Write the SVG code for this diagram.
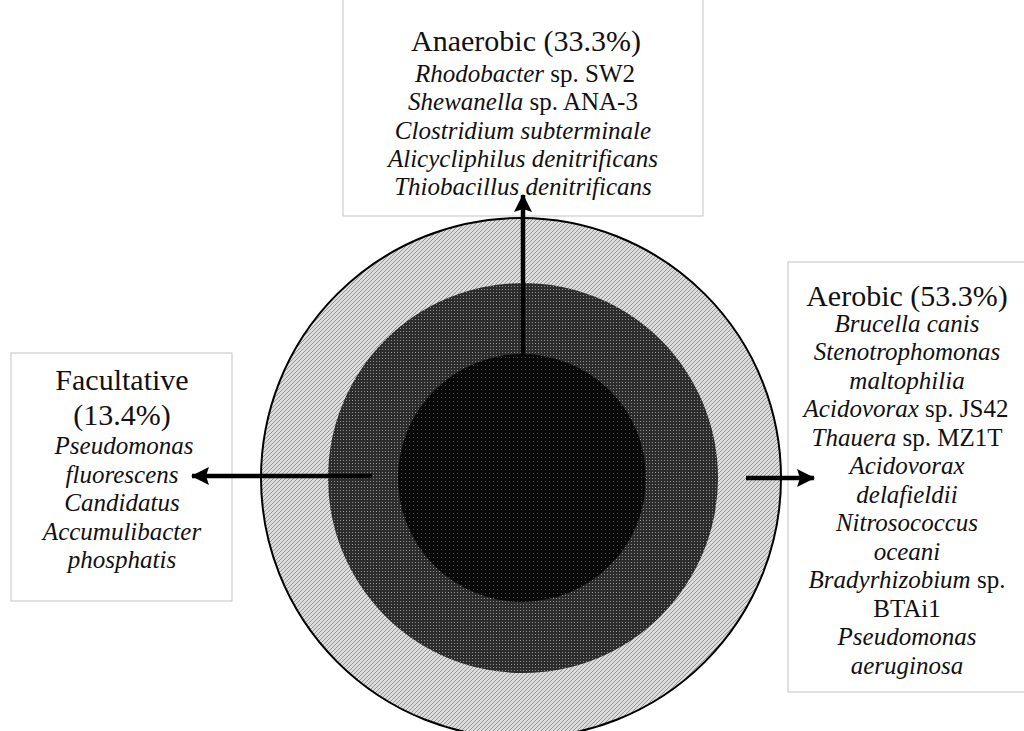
<svg xmlns="http://www.w3.org/2000/svg" width="1024" height="731" viewBox="0 0 1024 731">
<style>
.box{fill:#ffffff;stroke:#c4c4c4;stroke-width:1}
.t{font-family:"Liberation Serif","Times New Roman",serif;fill:#111;text-anchor:middle}
.h{font-size:30px}
.s{font-size:25px}
.i{font-style:italic}
.arr{stroke:#000;stroke-width:4.5;fill:none}
</style>
<defs>
<pattern id="pOuter" width="4" height="4" patternUnits="userSpaceOnUse">
<rect width="4" height="4" fill="#dcdcdc"/>
<path d="M-1,1 L1,-1 M0,4 L4,0 M3,5 L5,3" stroke="#7a7a7a" stroke-width="0.7"/>
</pattern>
<pattern id="pMid" width="3" height="3" patternUnits="userSpaceOnUse">
<rect width="3" height="3" fill="#2c2c2c"/>
<rect x="1" y="1" width="1" height="1" fill="#8f8f8f"/>
</pattern>
<pattern id="pIn" width="4" height="4" patternUnits="userSpaceOnUse">
<rect width="4" height="4" fill="#080808"/>
<rect x="1" y="1" width="1" height="1" fill="#4a4a4a"/>
</pattern>
<marker id="ah" viewBox="0 0 18 18" refX="17" refY="9" markerWidth="18" markerHeight="18" markerUnits="userSpaceOnUse" orient="auto">
<path d="M0,0 L18,9 L0,18 L3,9 Z" fill="#000"/>
</marker>
</defs>
<rect width="1024" height="731" fill="#ffffff"/>
<g id="rings">
<circle cx="521" cy="478" r="260" fill="url(#pOuter)" stroke="#000" stroke-width="2"/>
<circle cx="523" cy="478" r="195" fill="url(#pMid)"/>
<circle cx="522" cy="478" r="124" fill="url(#pIn)"/>
</g>
<g id="anaerobic">
<rect class="box" x="343" y="-2" width="360" height="218"/>
<text class="t h" x="526" y="51">Anaerobic (33.3%)</text>
<text class="t s" x="525" y="82"><tspan class="i">Rhodobacter</tspan> sp. SW2</text>
<text class="t s" x="523" y="110"><tspan class="i">Shewanella</tspan> sp. ANA-3</text>
<text class="t s i" x="523" y="139">Clostridium subterminale</text>
<text class="t s i" x="523" y="167">Alicycliphilus denitrificans</text>
<text class="t s i" x="523" y="195">Thiobacillus denitrificans</text>
</g>
<g id="facultative">
<rect class="box" x="11" y="353" width="221" height="248"/>
<text class="t h" x="122" y="390">Facultative</text>
<text class="t h" x="122" y="425">(13.4%)</text>
<text class="t s i" x="124" y="454">Pseudomonas</text>
<text class="t s i" x="122" y="483">fluorescens</text>
<text class="t s i" x="122" y="511">Candidatus</text>
<text class="t s i" x="122" y="540">Accumulibacter</text>
<text class="t s i" x="122" y="568">phosphatis</text>
</g>
<g id="aerobic">
<rect class="box" x="788" y="262" width="250" height="430"/>
<text class="t h" x="907" y="306">Aerobic (53.3%)</text>
<text class="t s i" x="907" y="332">Brucella canis</text>
<text class="t s i" x="907" y="360">Stenotrophomonas</text>
<text class="t s i" x="907" y="389">maltophilia</text>
<text class="t s" x="906" y="417"><tspan class="i">Acidovorax</tspan> sp. JS42</text>
<text class="t s" x="907" y="446"><tspan class="i">Thauera</tspan> sp. MZ1T</text>
<text class="t s i" x="907" y="474">Acidovorax</text>
<text class="t s i" x="907" y="503">delafieldii</text>
<text class="t s i" x="907" y="531">Nitrosococcus</text>
<text class="t s i" x="907" y="560">oceani</text>
<text class="t s" x="907" y="588"><tspan class="i">Bradyrhizobium</tspan> sp.</text>
<text class="t s" x="907" y="617">BTAi1</text>
<text class="t s i" x="907" y="645">Pseudomonas</text>
<text class="t s i" x="907" y="674">aeruginosa</text>
</g>
<g id="connectors">
<line class="arr" x1="523" y1="356" x2="523" y2="195" marker-end="url(#ah)"/>
<line class="arr" x1="372" y1="476" x2="192" y2="476" marker-end="url(#ah)"/>
<line class="arr" x1="746" y1="478" x2="814" y2="478" marker-end="url(#ah)"/>
</g>
</svg>
